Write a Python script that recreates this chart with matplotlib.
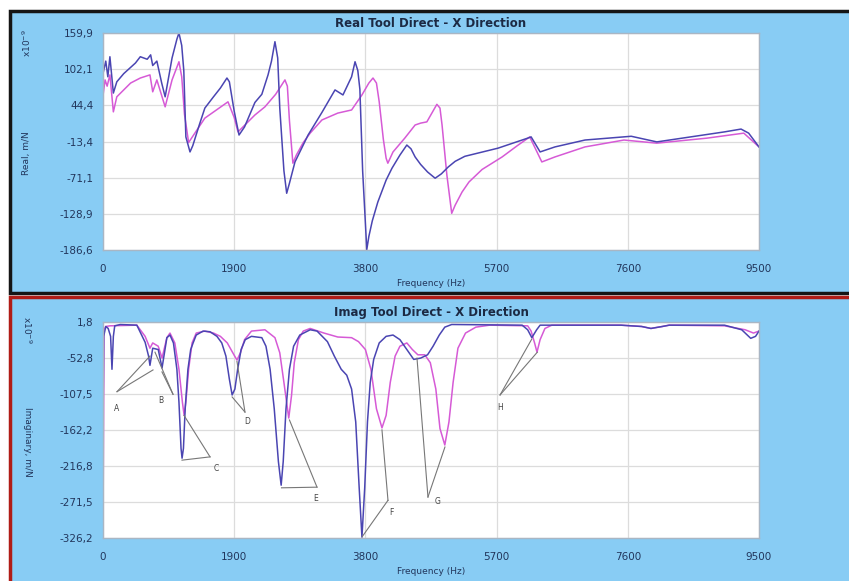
"""Tool-point FRF (direct, X direction): real and imaginary parts."""

import matplotlib
matplotlib.use("Agg")
import matplotlib.pyplot as plt
from matplotlib.patches import Rectangle

# ── Data (frequency in Hz, receptance in 1e-9 m/N) ──────────────────────

real_blue_f = [0, 40, 70, 100, 150, 200, 300, 400, 470, 540, 640, 690, 720,
               780, 850, 900, 1000, 1070, 1100, 1140, 1170, 1200, 1260, 1300,
               1400, 1475, 1600, 1700, 1795, 1830, 1900, 1970, 2050, 2200,
               2300, 2390, 2440, 2490, 2530, 2560, 2620, 2660, 2700, 2780,
               2970, 3170, 3360, 3475, 3600, 3650, 3690, 3720, 3760, 3820,
               3850, 3900, 3980, 4100, 4185, 4300, 4400, 4460, 4520, 4600,
               4700, 4810, 4900, 5000, 5100, 5240, 5720, 6150, 6200, 6330,
               6545, 6980, 7650, 8020, 8510, 9000, 9240, 9350, 9500]
real_blue = [95, 115, 90, 122, 64, 82, 95, 105, 112, 122, 118, 125, 108,
             115, 80, 58, 120, 150, 160, 140, 100, -6, -30, -20,
             15, 40, 58, 72, 88, 82, 35, -3, 10, 49,
             62, 93, 115, 146, 120, 40, -60, -96, -80, -46,
             -3, 33, 69, 61, 90, 114, 100, 70, -60, -186,
             -165, -140, -110, -75, -56, -35, -19, -25, -38, -50,
             -62, -72, -65, -54, -45, -37, -24, -8, -6, -30,
             -22, -11, -5, -14, -6, 2, 6.5, 0, -22]

real_mag_f = [0, 30, 60, 100, 150, 200, 400, 540, 680, 720, 780, 900, 1000,
              1100, 1140, 1180, 1240, 1300, 1475, 1810, 1900, 1955, 2200,
              2345, 2500, 2635, 2670, 2700, 2750, 2800, 2900, 3000, 3170,
              3400, 3600, 3750, 3850, 3910, 3960, 4000, 4060, 4100, 4125,
              4200, 4370, 4520, 4600, 4690, 4835, 4880, 4910, 4980, 5050,
              5100, 5200, 5300, 5490, 5780, 6000, 6180, 6355, 6545, 6980,
              7545, 8020, 8745, 9280, 9500]
real_mag = [60, 85, 75, 93, 34, 58, 80, 88, 93, 66, 85, 42, 85,
            114, 90, 30, -15, -5, 24, 50, 25, 2, 29,
            42, 62, 85, 75, 20, -48, -35, -15, 0, 21,
            32, 37, 61, 80, 88, 80, 50, -10, -40, -48,
            -30, -8, 13, 16, 18, 46, 40, 13, -67, -128,
            -115, -94, -78, -58, -38, -20, -6, -46, -38, -22,
            -11, -16, -8, 0, -22]

imag_blue_f = [0, 10, 40, 75, 110, 130, 150, 170, 250, 490, 610, 660, 680,
               720, 800, 855, 925, 970, 1020, 1070, 1100, 1130, 1145, 1165,
               1190, 1230, 1270, 1305, 1350, 1450, 1550, 1650, 1720, 1780,
               1830, 1870, 1910, 1950, 2000, 2060, 2150, 2300, 2360, 2420,
               2480, 2540, 2580, 2610, 2650, 2700, 2760, 2850, 3000, 3100,
               3250, 3350, 3450, 3530, 3600, 3660, 3710, 3750, 3790, 3830,
               3870, 3920, 4000, 4100, 4200, 4300, 4400, 4500, 4600, 4700,
               4780, 4870, 4950, 5050, 6070, 6150, 6210, 6280, 6330, 7500,
               7800, 7935, 8100, 8200, 9000, 9250, 9380, 9450, 9500]
imag_blue = [-162, -20, -5, -8, -20, -70, -20, -4, -2, -3, -29, -50, -64,
             -38, -40, -68, -22, -18, -30, -70, -120, -190, -205, -190,
             -130, -70, -40, -30, -18, -12, -13, -20, -30, -50,
             -85, -109, -100, -70, -40, -25, -20, -22, -35, -70,
             -130, -210, -246, -210, -130, -70, -35, -18, -10, -12,
             -28, -50, -70, -79, -100, -150, -250, -325, -250, -150,
             -90, -55, -30, -20, -18, -25, -40, -55, -53, -48,
             -35, -18, -6, -2, -3, -10, -22, -10, -3, -3,
             -5, -8, -5, -3, -3, -10, -23, -20, -12]

imag_mag_f = [0, 15, 40, 100, 490, 610, 680, 720, 800, 855, 925, 970, 1040,
              1100, 1150, 1175, 1200, 1240, 1290, 1350, 1475, 1600, 1700,
              1800, 1880, 1940, 1990, 2050, 2150, 2345, 2490, 2560, 2620,
              2690, 2730, 2770, 2830, 2900, 3000, 3200, 3400, 3600, 3700,
              3800, 3880, 3960, 4040, 4100, 4160, 4230, 4300, 4400, 4480,
              4560, 4660, 4740, 4820, 4880, 4950, 5010, 5070, 5140, 5250,
              5400, 5600, 6150, 6200, 6250, 6285, 6330, 6400, 6500, 7500,
              7800, 7935, 8100, 8200, 9000, 9300, 9420, 9500]
imag_mag = [-316, -10, -5, -4, -3, -20, -38, -30, -35, -53, -22, -15, -30,
            -70, -120, -140, -120, -70, -30, -15, -12, -15, -20,
            -30, -45, -56, -45, -25, -12, -10, -22, -45, -90,
            -144, -110, -60, -25, -12, -8, -15, -21, -22, -28,
            -40, -70, -130, -159, -140, -90, -50, -35, -30, -40,
            -48, -48, -60, -100, -160, -185, -150, -90, -38, -15,
            -6, -3, -4, -12, -30, -44, -25, -8, -3, -3,
            -5, -8, -5, -3, -4, -10, -15, -12]

x_ticks = [0, 1900, 3800, 5700, 7600, 9500]
real_ticks = [159.9, 102.1, 44.4, -13.4, -71.1, -128.9, -186.6]
real_tick_labels = ["159,9", "102,1", "44,4", "-13,4", "-71,1", "-128,9", "-186,6"]
imag_ticks = [1.8, -52.8, -107.5, -162.2, -216.8, -271.5, -326.2]
imag_tick_labels = ["1,8", "-52,8", "-107,5", "-162,2", "-216,8", "-271,5", "-326,2"]

# mode labels: (text, text pos, leader vertex, blue target, magenta target)
modes = [
    ("A", (200, -122), (203, -104), (680, -50), (724, -71)),
    ("B", (830, -111), (1014, -108), (753, -44), (854, -74)),
    ("C", (1640, -214), (1550, -203), (1144, -208), (1173, -140)),
    ("D", (2090, -143), (2056, -135), (1870, -112), (1940, -58)),
    ("E", (3080, -260), (3099, -249), (2585, -250), (2700, -147)),
    ("F", (4170, -280), (4127, -269), (3755, -324), (4040, -162)),
    ("G", (4850, -264), (4706, -264), (4547, -53), (4952, -188)),
    ("H", (5750, -121), (5750, -109), (6210, -24), (6290, -44)),
]

# ── Style ─────────────────────────────────────────────────────────────

W, H = 849, 581
PANEL_BG = "#88ccf4"
BLUE = "#4a45b2"
MAGENTA = "#d65ad6"
TEXT = "#22365c"
GRID = "#dcdcdc"

plt.rcParams.update({
    "font.family": "DejaVu Sans",
    "font.size": 7.5,
})

fig = plt.figure(figsize=(W / 100, H / 100), dpi=100)
fig.patch.set_facecolor("white")

# panel frames
fig.add_artist(Rectangle((10 / W, 1 - 293 / H), 1.0, (293 - 11) / H,
                         transform=fig.transFigure, facecolor=PANEL_BG,
                         edgecolor="#151515", linewidth=2.5, zorder=0))
fig.add_artist(Rectangle((10 / W, -0.05), 1.0, 1 - 297 / H + 0.05,
                         transform=fig.transFigure, facecolor=PANEL_BG,
                         edgecolor="#b01c16", linewidth=2.5, zorder=0))


def px_axes(left, top, right, bottom):
    return fig.add_axes([left / W, 1 - bottom / H, (right - left) / W,
                         (bottom - top) / H])


def style_axes(ax, yticks, ylabels, title):
    ax.set_facecolor("white")
    ax.set_xlim(0, 9500)
    ax.set_ylim(yticks[-1], yticks[0])
    ax.set_xticks(x_ticks)
    ax.set_xticklabels([str(t) for t in x_ticks], color=TEXT)
    ax.set_yticks(yticks)
    ax.set_yticklabels(ylabels, color=TEXT)
    ax.tick_params(length=0, pad=7)
    ax.tick_params(axis="x", pad=10)
    ax.grid(True, color=GRID, linewidth=0.9)
    ax.set_axisbelow(True)
    for s in ax.spines.values():
        s.set_color("#a9b6c4")
        s.set_linewidth(1.0)
    ax.set_title(title, fontsize=8.5, fontweight="bold", color="#1c2a44", pad=4)
    ax.set_xlabel("Frequency (Hz)", fontsize=6.5, color=TEXT, labelpad=4)


# ── Real part ───────────────────────────────────────────────────────────

ax1 = px_axes(103, 33, 759, 250)
ax1.plot(real_mag_f, real_mag, color=MAGENTA, lw=1.1)
ax1.plot(real_blue_f, real_blue, color=BLUE, lw=1.1)
style_axes(ax1, real_ticks, real_tick_labels, "Real Tool Direct - X Direction")
fig.text(27 / W, 1 - 43 / H, "x10$^{-9}$", rotation=90, ha="center",
         va="center", color=TEXT, fontsize=6.5)
fig.text(27 / W, 1 - 153 / H, "Real, m/N", rotation=90, ha="center",
         va="center", color=TEXT, fontsize=6.5)

# ── Imaginary part ──────────────────────────────────────────────────────

ax2 = px_axes(103, 322, 759, 538)
ax2.plot(imag_mag_f, imag_mag, color=MAGENTA, lw=1.1)
ax2.plot(imag_blue_f, imag_blue, color=BLUE, lw=1.1)
style_axes(ax2, imag_ticks, imag_tick_labels, "Imag Tool Direct - X Direction")
fig.text(27 / W, 1 - 330 / H, "x10$^{-9}$", rotation=-90, ha="center",
         va="center", color=TEXT, fontsize=6.5)
fig.text(27 / W, 1 - 442 / H, "Imaginary, m/N", rotation=-90, ha="center",
         va="center", color=TEXT, fontsize=6.5)

for label, txt, vertex, tgt_b, tgt_m in modes:
    for tgt in (tgt_b, tgt_m):
        ax2.plot([vertex[0], tgt[0]], [vertex[1], tgt[1]], color="#777777",
                 lw=0.8, zorder=3)
    ax2.text(txt[0], txt[1], label, fontsize=5.5, color="#444444",
             ha="center", va="top")

fig.savefig("out.png", dpi=100, facecolor=fig.get_facecolor())
